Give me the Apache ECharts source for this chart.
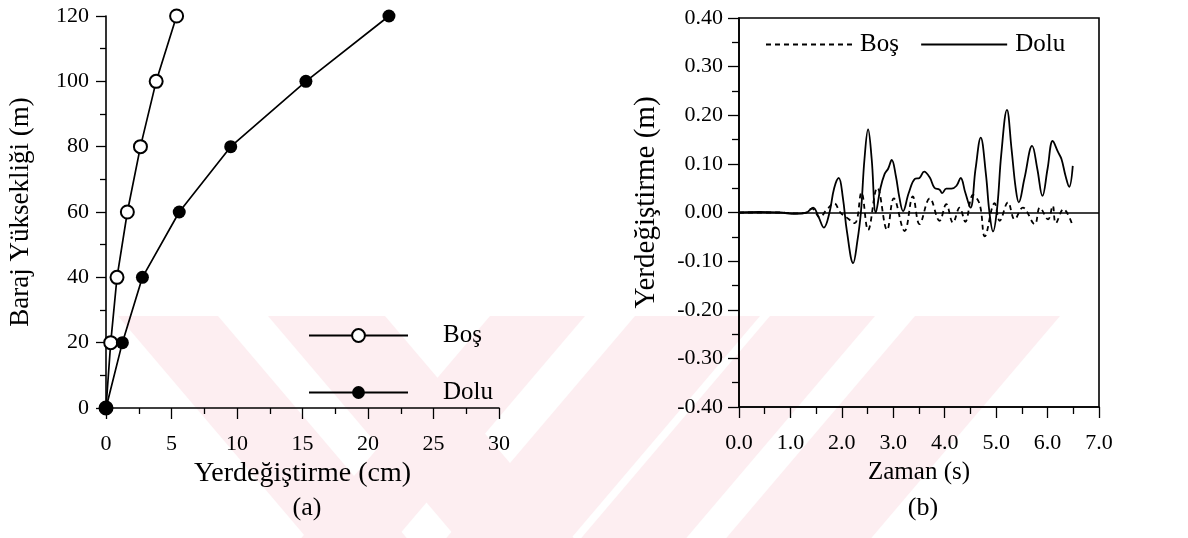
<!DOCTYPE html>
<html>
<head>
<meta charset="utf-8">
<script src="https://cdn.jsdelivr.net/npm/echarts@6/dist/echarts.min.js"></script>
<style>
  html, body { margin: 0; padding: 0; background: #fff; }
  #chart { width: 1188px; height: 538px; }
</style>
</head>
<body>
<div id="chart"></div>
<script>
// ---------- Panel (a): height vs displacement ----------
const heightLevels = [0, 20, 40, 60, 80, 100, 120];           // Baraj Yüksekliği (m)
const bosDisp      = [0, 0.36, 0.84, 1.63, 2.63, 3.83, 5.39]; // Boş (cm)
const doluDisp     = [0, 1.25, 2.78, 5.59, 9.52, 15.26, 21.6]; // Dolu (cm)

// ---------- Panel (b): displacement time history ----------
const doluTime = [0.00,0.40,0.80,1.10,1.30,1.44,1.55,1.65,1.76,1.85,1.94,2.02,2.10,2.22,2.30,2.37,2.44,2.51,2.58,2.66,2.75,2.83,2.90,2.97,3.05,3.12,3.19,3.30,3.42,3.51,3.60,3.71,3.80,3.90,3.95,4.03,4.13,4.23,4.31,4.40,4.50,4.60,4.70,4.80,4.87,4.94,5.02,5.10,5.21,5.30,5.38,5.44,5.55,5.70,5.80,5.90,6.00,6.10,6.20,6.27,6.35,6.42,6.49];
const doluResp = [0.000,0.001,0.000,-0.003,-0.001,0.010,-0.010,-0.031,0.000,0.050,0.071,0.030,-0.040,-0.104,-0.060,0.000,0.110,0.171,0.110,0.000,0.050,0.079,0.090,0.108,0.075,0.030,0.003,0.040,0.069,0.071,0.084,0.072,0.051,0.047,0.040,0.049,0.049,0.055,0.071,0.041,0.010,0.090,0.154,0.080,0.000,-0.039,0.010,0.120,0.211,0.130,0.050,0.021,0.070,0.137,0.090,0.034,0.090,0.147,0.125,0.110,0.075,0.053,0.096];
const bosTime = [0.00,0.80,1.10,1.30,1.42,1.57,1.70,1.85,1.97,2.09,2.25,2.38,2.51,2.69,2.88,3.01,3.22,3.38,3.51,3.71,3.90,4.03,4.16,4.29,4.40,4.55,4.68,4.78,4.97,5.07,5.23,5.36,5.52,5.75,5.85,6.01,6.10,6.16,6.31,6.47];
const bosResp = [0.000,0.000,-0.002,0.000,0.008,-0.010,0.005,0.019,0.000,-0.010,-0.022,0.041,-0.036,0.051,-0.036,0.029,-0.038,0.033,-0.024,0.029,-0.017,0.017,-0.021,0.010,-0.019,0.036,0.017,-0.049,0.019,-0.017,0.021,-0.014,0.010,-0.024,0.010,-0.014,0.014,-0.022,0.007,-0.022];

// tick labels
const xTicksA = [0, 5, 10, 15, 20, 25, 30];
const yTicksA = [0, 20, 40, 60, 80, 100, 120];

const zip = (a, b) => a.map((v, i) => [v, b[i]]);

const FONT = 'Liberation Serif';
const INK = '#000';

// decorative watermark bands (background)
const bands = [
  { top: [118, 218], dir: 1 },
  { top: [268, 385], dir: 1 },
  { top: [490, 585], dir: -1 },
  { top: [635, 760], dir: -1 },
  { top: [770, 875], dir: -1 },
  { top: [915, 1060], dir: -1 }
];
const wmGraphics = bands.map(b => {
  const y0 = 316, y1 = 538, dx = 0.85 * (y1 - y0) * b.dir;
  return {
    type: 'polygon', z: -10, silent: true,
    shape: { points: [[b.top[0], y0], [b.top[1], y0], [b.top[1] + dx, y1], [b.top[0] + dx, y1]] },
    style: { fill: '#fdeef1' }
  };
});

const chart = echarts.init(document.getElementById('chart'), null, { renderer: 'canvas' });

const axisText = { color: INK, fontFamily: FONT, fontSize: 22 };
const nameStyle = size => ({ color: INK, fontFamily: FONT, fontSize: size });
const blackLine = { lineStyle: { color: '#000', width: 1.6 } };
const tickStyle = { color: '#000', width: 1.3 };

chart.setOption({
  backgroundColor: '#fff',
  animation: false,
  graphic: wmGraphics,
  title: [
    { text: '(a)', left: 302, top: 490, textAlign: 'center',
      textStyle: { fontFamily: FONT, fontSize: 26, fontWeight: 'normal', color: INK } },
    { text: '(b)', left: 918, top: 490, textAlign: 'center',
      textStyle: { fontFamily: FONT, fontSize: 26, fontWeight: 'normal', color: INK } }
  ],
  legend: [
    {
      data: [{ name: 'Boş' }, { name: 'Dolu' }],
      orient: 'vertical', left: 308, top: 323, padding: 0,
      itemWidth: 99, itemHeight: 16, itemGap: 32,
      textStyle: { fontFamily: FONT, fontSize: 25, color: INK, padding: [0, 0, 0, 30] },
      selectedMode: false
    },
    {
      data: [{ name: 'Boş ' }, { name: 'Dolu ' }],
      orient: 'horizontal', left: 765, top: 32, padding: 0,
      itemWidth: 86, itemHeight: 14, itemGap: 15,
      itemStyle: { opacity: 0 },
      textStyle: { fontFamily: FONT, fontSize: 25, color: INK, padding: [0, 0, 0, 3] },
      selectedMode: false
    }
  ],
  grid: [
    { left: 106, top: 16, width: 393, height: 392, show: false },
    { left: 739, top: 18, width: 360, height: 389, show: true, borderColor: '#000', borderWidth: 1.6 }
  ],
  xAxis: [
    {
      gridIndex: 0, type: 'value', min: 0, max: 30, interval: 5,
      name: 'Yerdeğiştirme (cm)', nameLocation: 'middle', nameGap: 52, nameTextStyle: nameStyle(28),
      axisLine: { show: true, ...blackLine },
      axisTick: { show: true, inside: false, length: 11, lineStyle: tickStyle },
      minorTick: { show: true, splitNumber: 2, length: 6, lineStyle: tickStyle },
      axisLabel: { ...axisText, margin: 25, formatter: v => xTicksA.includes(v) ? String(v) : '' },
      splitLine: { show: false }
    },
    {
      gridIndex: 1, type: 'value', min: 0, max: 7, interval: 1,
      name: 'Zaman (s)', nameLocation: 'middle', nameGap: 53, nameTextStyle: nameStyle(25),
      axisLine: { show: true, onZero: false, ...blackLine },
      axisTick: { show: true, inside: false, length: 11, lineStyle: tickStyle },
      minorTick: { show: true, splitNumber: 2, length: 7, lineStyle: tickStyle },
      axisLabel: { ...axisText, margin: 25, formatter: v => v.toFixed(1) },
      splitLine: { show: false }
    }
  ],
  yAxis: [
    {
      gridIndex: 0, type: 'value', min: 0, max: 120, interval: 20,
      name: 'Baraj Yüksekliği (m)', nameLocation: 'middle', nameGap: 72, nameTextStyle: nameStyle(27),
      axisLine: { show: true, ...blackLine },
      axisTick: { show: true, inside: false, length: 10, lineStyle: tickStyle },
      minorTick: { show: true, splitNumber: 2, length: 6, lineStyle: tickStyle },
      axisLabel: { ...axisText, margin: 17, formatter: v => yTicksA.includes(v) ? String(v) : '' },
      splitLine: { show: false }
    },
    {
      gridIndex: 1, type: 'value', min: -0.4, max: 0.4, interval: 0.1,
      name: 'Yerdeğiştirme (m)', nameLocation: 'middle', nameGap: 78,
      nameTextStyle: { ...nameStyle(29), padding: [0, 0, 0, 20] },
      axisLine: { show: true, onZero: false, ...blackLine },
      axisTick: { show: true, inside: false, length: 11, lineStyle: tickStyle },
      minorTick: { show: true, splitNumber: 2, length: 7, lineStyle: tickStyle },
      axisLabel: { ...axisText, margin: 16, formatter: v => v.toFixed(2) },
      splitLine: { show: false }
    }
  ],
  series: [
    {
      name: 'Boş', type: 'line', xAxisIndex: 0, yAxisIndex: 0,
      data: zip(bosDisp, heightLevels),
      symbol: 'emptyCircle', symbolSize: 13,
      itemStyle: { color: '#000', borderWidth: 1.6 },
      lineStyle: { color: '#000', width: 1.7 }
    },
    {
      name: 'Dolu', type: 'line', xAxisIndex: 0, yAxisIndex: 0,
      data: zip(doluDisp, heightLevels),
      symbol: 'circle', symbolSize: 13,
      itemStyle: { color: '#000' },
      lineStyle: { color: '#000', width: 1.7 }
    },
    {
      name: 'Boş ', type: 'line', xAxisIndex: 1, yAxisIndex: 1,
      data: zip(bosTime, bosResp),
      showSymbol: false, symbol: 'none', smooth: 0.4,
      lineStyle: { color: '#000', width: 1.8, type: [5, 4] }
    },
    {
      name: 'Dolu ', type: 'line', xAxisIndex: 1, yAxisIndex: 1,
      data: zip(doluTime, doluResp),
      showSymbol: false, symbol: 'none', smooth: 0.4,
      lineStyle: { color: '#000', width: 1.8 },
      markLine: {
        silent: true, symbol: 'none', label: { show: false },
        lineStyle: { color: '#000', width: 1.6, type: 'solid' },
        data: [{ yAxis: 0 }]
      }
    }
  ]
});
</script>
</body>
</html>
